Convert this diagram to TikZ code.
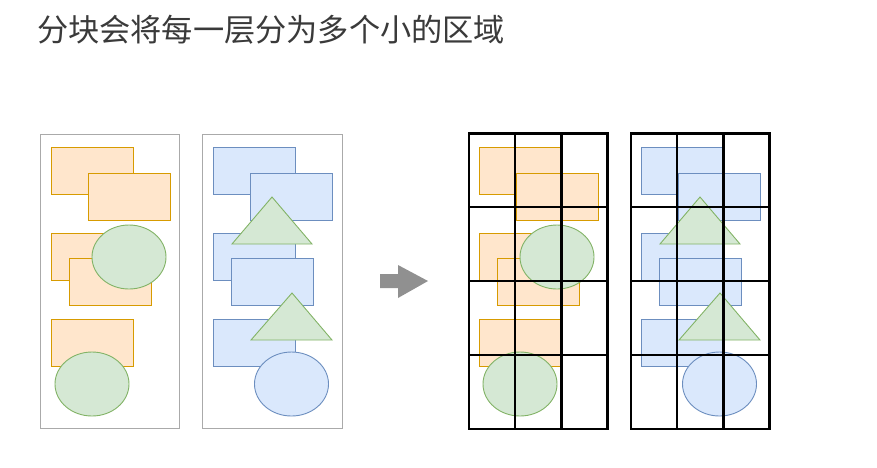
\documentclass[tikz,border=0pt]{standalone}
\usepackage{fontspec}
\newfontfamily\cjk{Noto Sans CJK SC}
\usetikzlibrary{shapes.geometric}
\definecolor{orangefill}{HTML}{FFE6CC}
\definecolor{orangeline}{HTML}{D79B00}
\definecolor{bluefill}{HTML}{DAE8FC}
\definecolor{blueline}{HTML}{6C8EBF}
\definecolor{greenfill}{HTML}{D5E8D4}
\definecolor{greenline}{HTML}{82B366}
\definecolor{panelgray}{HTML}{AAAAAA}
\definecolor{arrowgray}{HTML}{909090}
\definecolor{titlegray}{HTML}{3A3A3A}

\begin{document}
\begin{tikzpicture}[ % pixel units, y runs downwards
        x=1pt, y=-1pt,
        every node/.style={inner sep=0pt, outer sep=0pt}, % Default style for all nodes
        panel/.style={draw=panelgray, line width=0.9pt}, % Plain layer frame
        orangebox/.style={rectangle, draw=orangeline, fill=orangefill, line width=0.9pt, minimum width=82, minimum height=47},
        bluebox/.style={rectangle, draw=blueline, fill=bluefill, line width=0.9pt, minimum width=82, minimum height=47},
        greenblob/.style={ellipse, draw=greenline, fill=greenfill, line width=0.9pt, minimum width=74, minimum height=64},
        blueblob/.style={ellipse, draw=blueline, fill=bluefill, line width=0.9pt, minimum width=74, minimum height=64},
        greentri/.style={draw=greenline, fill=greenfill, line width=0.9pt, line join=miter},
        gridline/.style={draw=black, line width=2.2pt}, % Tile borders
        bigarrow/.style={fill=arrowgray}
    ]
    \useasboundingbox (0,0) rectangle (877,467);
    % --- Title ---
    \node (title) [anchor=west, text=titlegray, font=\cjk\fontsize{31.2}{33}\selectfont] at (37,30) {分块会将每一层分为多个小的区域};
    % --- Both layers, once plain (l) and once tiled (t) ---
    \foreach \s/\dx in {l/0, t/428} {
    \begin{scope}[xshift=\dx]
    % first layer
    \node (\s-r1) [orangebox] at (92,170.5) {};
    \node (\s-r2) [orangebox] at (129,197) {};
    \node (\s-r3) [orangebox] at (92,257) {};
    \node (\s-r4) [orangebox] at (110,281.5) {};
    \node (\s-e1) [greenblob] at (129,257) {};
    \node (\s-r5) [orangebox] at (92,343) {};
    \node (\s-e2) [greenblob] at (92,384) {};
    % second layer
    \node (\s-b1) [bluebox] at (254,170.5) {};
    \node (\s-b2) [bluebox] at (291,197) {};
    \node (\s-b3) [bluebox] at (254,257) {};
    \node (\s-b4) [bluebox] at (272,281.5) {};
    \node (\s-b5) [bluebox] at (254,343) {};
    \draw[greentri] (232,244) -- (272,197) -- (312,244) -- cycle;
    \draw[greentri] (251,340) -- (292,293) -- (332,340) -- cycle;
    \node (\s-e3) [blueblob] at (291.5,384) {};
    \end{scope}
    }
    % --- Plain frames ---
    \draw[panel] (40,134) rectangle (179,428);
    \draw[panel] (202,134) rectangle (342,428);
    % --- Arrow between ---
    \path[bigarrow] (380,274) -- (398,274) -- (398,265) -- (428,281) -- (398,298) -- (398,288) -- (380,288) -- cycle;
    % --- Tile grids ---
    \foreach \gx in {469,631} {
        \draw[gridline] (\gx,133.5) rectangle ++(138.5,295.5);
        \draw[gridline] (\gx+46.2,133.5) -- ++(0,295.5);
        \draw[gridline] (\gx+92.4,133.5) -- ++(0,295.5);
        \foreach \gy in {207,281,355}
            \draw[gridline] (\gx,\gy) -- ++(138.5,0);
    }
\end{tikzpicture}
\end{document}
